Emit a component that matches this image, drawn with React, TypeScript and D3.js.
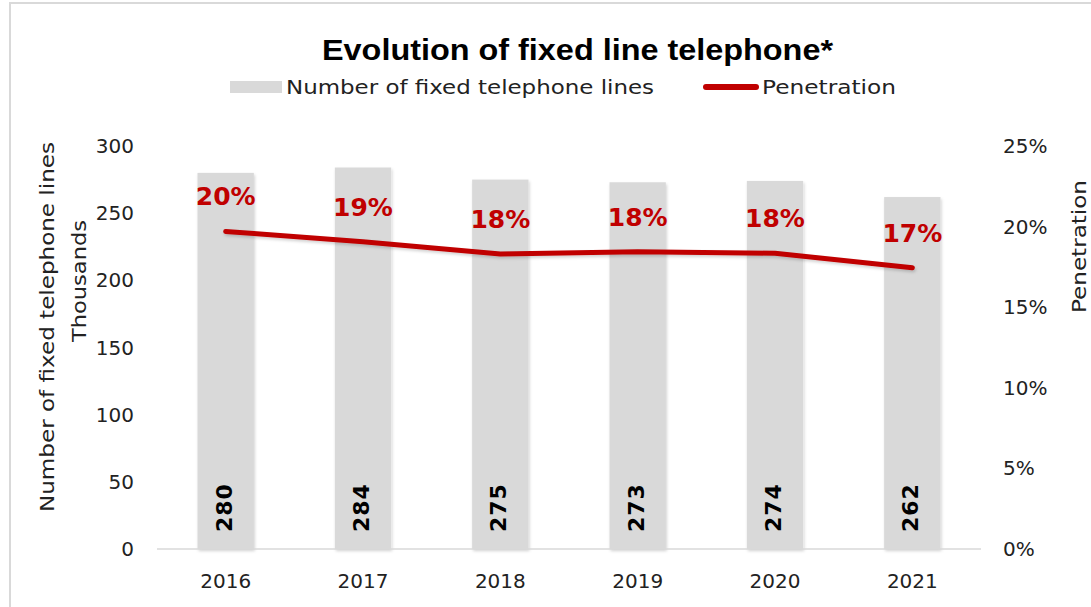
import * as d3 from "d3";
import { useEffect, useRef } from "react";

const years = ["2016", "2017", "2018", "2019", "2020", "2021"];
const lines = [280, 284, 275, 273, 274, 262]; // thousands
const penetration = [0.197, 0.1906, 0.183, 0.1844, 0.1834, 0.1745];
const leftTicks = [0, 50, 100, 150, 200, 250, 300];
const rightTicks = [0, 0.05, 0.1, 0.15, 0.2, 0.25];

const App = () => {
  const svgRef = useRef<SVGSVGElement | null>(null);
  const w = 1091;
  const h = 607;
  const font = "'DejaVu Sans', sans-serif";
  const red = "#C00000";
  const grey = "#D9D9D9";

  useEffect(() => {
    if (!svgRef.current) return;
    const svg = d3.select(svgRef.current)
      .attr("viewBox", `0 0 ${w} ${h}`)
      .attr("width", w)
      .attr("height", h);
    svg.selectAll("*").remove();

    const defs = svg.append("defs");
    const f = defs.append("filter").attr("id", "sh")
      .attr("x", "-20%").attr("y", "-20%").attr("width", "140%").attr("height", "140%");
    f.append("feDropShadow").attr("dx", 1).attr("dy", 2).attr("stdDeviation", 1.5)
      .attr("flood-color", "#000").attr("flood-opacity", 0.18);

    svg.append("rect").attr("width", w).attr("height", h).attr("fill", "#fff");

    // chart frame (only top and left edges visible)
    svg.append("path")
      .attr("d", `M10,${h} V3 H${w}`)
      .attr("fill", "none")
      .attr("stroke", grey)
      .attr("stroke-width", 2);

    const x = d3.scaleBand<string>()
      .domain(years)
      .range([157, 981])
      .paddingInner(0.59)
      .paddingOuter(0.295);
    const yL = d3.scaleLinear().domain([0, 300]).range([549, 146]);
    const yR = d3.scaleLinear().domain([0, 0.25]).range([549, 146]);
    const cx = (d: string) => x(d)! + x.bandwidth() / 2;

    // title
    svg.append("text")
      .attr("x", 322).attr("y", 60)
      .attr("font-family", "'Liberation Sans', Arial, sans-serif")
      .attr("font-weight", "bold")
      .attr("font-size", 29)
      .attr("textLength", 511)
      .attr("lengthAdjust", "spacingAndGlyphs")
      .attr("fill", "#000")
      .text("Evolution of fixed line telephone*");

    // legend
    const lg = svg.append("g").attr("font-family", font).attr("font-size", 20).attr("fill", "#222");
    lg.append("rect").attr("x", 230).attr("y", 81).attr("width", 52).attr("height", 12).attr("fill", grey);
    lg.append("text").attr("x", 286).attr("y", 94)
      .attr("textLength", 368).attr("lengthAdjust", "spacingAndGlyphs")
      .text("Number of fixed telephone lines");
    lg.append("line").attr("x1", 706).attr("x2", 756).attr("y1", 87).attr("y2", 87)
      .attr("stroke", red).attr("stroke-width", 6).attr("stroke-linecap", "round");
    lg.append("text").attr("x", 762).attr("y", 94)
      .attr("textLength", 134).attr("lengthAdjust", "spacingAndGlyphs")
      .text("Penetration");

    // bars
    svg.append("g").selectAll("rect")
      .data(years)
      .enter().append("rect")
      .attr("x", d => x(d)!)
      .attr("y", (d, i) => yL(lines[i]))
      .attr("width", x.bandwidth())
      .attr("height", (d, i) => yL(0) - yL(lines[i]))
      .attr("fill", grey)
      .attr("filter", "url(#sh)");

    // baseline
    svg.append("line")
      .attr("x1", 157).attr("x2", 981)
      .attr("y1", yL(0)).attr("y2", yL(0))
      .attr("stroke", grey).attr("stroke-width", 1.5);

    // left axis ticks
    svg.append("g").selectAll("text")
      .data(leftTicks)
      .enter().append("text")
      .attr("x", 134)
      .attr("y", d => yL(d) + 7)
      .attr("text-anchor", "end")
      .attr("font-family", font).attr("font-size", 20).attr("fill", "#222")
      .text(d => d);

    // right axis ticks
    svg.append("g").selectAll("text")
      .data(rightTicks)
      .enter().append("text")
      .attr("x", 1003)
      .attr("y", d => yR(d) + 7)
      .attr("font-family", font).attr("font-size", 20).attr("fill", "#222")
      .text(d => d3.format(".0%")(d));

    // year labels
    svg.append("g").selectAll("text")
      .data(years)
      .enter().append("text")
      .attr("x", d => cx(d))
      .attr("y", 588)
      .attr("text-anchor", "middle")
      .attr("font-family", font).attr("font-size", 20).attr("fill", "#222")
      .text(d => d);

    // axis titles
    svg.append("text")
      .attr("transform", `translate(54, 512) rotate(-90)`)
      .attr("font-family", font).attr("font-size", 20).attr("fill", "#222")
      .attr("textLength", 370).attr("lengthAdjust", "spacingAndGlyphs")
      .text("Number of fixed telephone lines");
    svg.append("text")
      .attr("transform", `translate(86, 342) rotate(-90)`)
      .attr("font-family", font).attr("font-size", 20).attr("fill", "#222")
      .attr("textLength", 122).attr("lengthAdjust", "spacingAndGlyphs")
      .text("Thousands");
    svg.append("text")
      .attr("transform", `translate(1086, 313) rotate(-90)`)
      .attr("font-family", font).attr("font-size", 20).attr("fill", "#222")
      .attr("textLength", 133).attr("lengthAdjust", "spacingAndGlyphs")
      .text("Penetration");

    // bar value labels
    svg.append("g").selectAll("text")
      .data(years)
      .enter().append("text")
      .attr("transform", d => `translate(${cx(d) + 6}, 532) rotate(-90)`)
      .attr("font-family", font).attr("font-weight", "bold").attr("font-size", 22)
      .attr("letter-spacing", 1)
      .attr("fill", "#000")
      .text((d, i) => lines[i]);

    // penetration line
    const line = d3.line<number>()
      .x((d, i) => cx(years[i]))
      .y(d => yR(d));
    svg.append("path")
      .datum(penetration)
      .attr("d", line)
      .attr("fill", "none")
      .attr("stroke", red)
      .attr("stroke-width", 5)
      .attr("stroke-linecap", "round")
      .attr("stroke-linejoin", "round")
      .attr("filter", "url(#sh)");

    // penetration labels
    svg.append("g").selectAll("text")
      .data(penetration)
      .enter().append("text")
      .attr("x", (d, i) => cx(years[i]))
      .attr("y", d => yR(d) - 26)
      .attr("text-anchor", "middle")
      .attr("font-family", font).attr("font-weight", "bold").attr("font-size", 25)
      .attr("fill", red)
      .text(d => d3.format(".0%")(d));
  }, []);

  return (
    <svg ref={svgRef} style={{ position: "absolute", left: 0, top: 0 }}></svg>
  );
};
export default App;
